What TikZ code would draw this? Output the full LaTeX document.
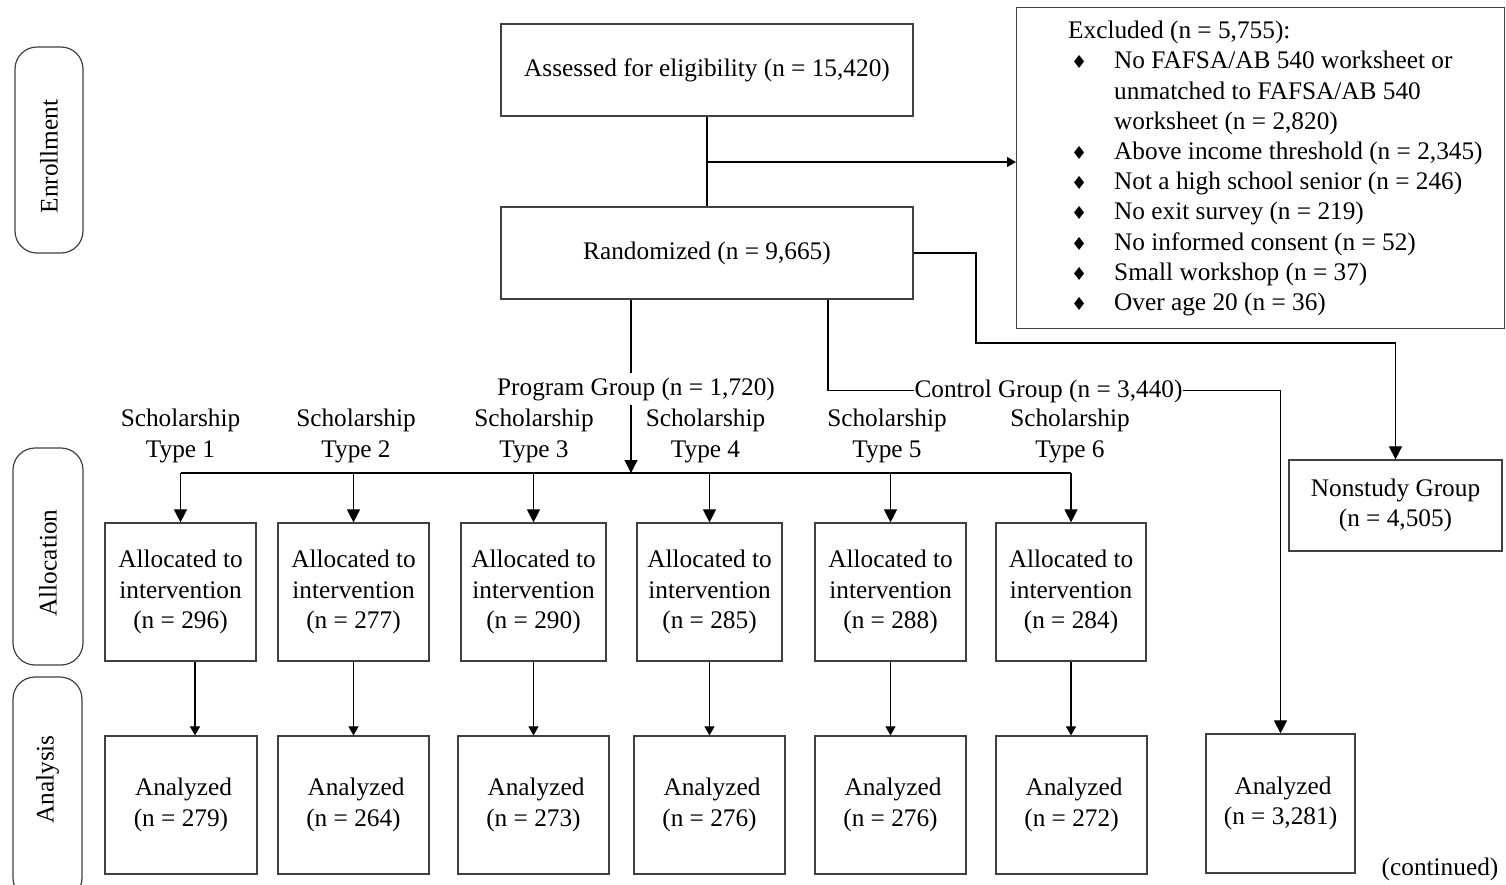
\documentclass[tikz,border=0pt]{standalone}
\usepackage{fontspec}
\setmainfont{Liberation Serif}
\newfontfamily\dejavu{DejaVu Sans}
\usetikzlibrary{arrows.meta,calc}
\newcommand\diam{{\dejavu\fontsize{18}{18}\selectfont ♦}}
\tikzset{
  txt/.style={font=\fontsize{25.3}{30.2}\selectfont},
  box/.style={draw=black!75, line width=1.2pt, txt, align=center, inner sep=0pt},
  phase/.style={draw=black!75, line width=1.2pt, rounded corners=22pt, txt, inner sep=0pt},
  conn/.style={line width=1.1pt, black},
  big/.style={conn, -{Triangle[width=13pt,length=13pt]}},
  small/.style={conn, -{Triangle[width=10pt,length=9pt]}},
  lab/.style={txt, inner sep=0pt, align=center},
}
\begin{document}
\begin{tikzpicture}[x=1pt,y=-1pt]
\useasboundingbox (0,0) rectangle (1506,884);

% phase labels
\node[phase, minimum width=68pt, minimum height=206pt] (enr) at (49,150) {\rotatebox{90}{Enrollment\hspace*{13pt}}};
\node[phase, minimum width=70pt, minimum height=217pt] (alc) at (48,556.5) {\rotatebox{90}{Allocation\hspace*{13pt}}};
\node[phase, minimum width=69pt, minimum height=223pt] (anl) at (47.5,788.5) {\rotatebox{90}{\hspace*{18pt}Analysis}};

% enrollment
\node[box, minimum width=412pt, minimum height=92pt] (ass) at (707,70) {Assessed for eligibility (n = 15,420)};
\node[box, minimum width=412pt, minimum height=92pt] (ran) at (707,253) {Randomized (n = 9,665)};
\node[box, anchor=north west, minimum width=488pt, minimum height=321pt] (excl) at (1016,7) {};
\node[txt, anchor=west, inner sep=0pt] (exclt) at (1068,168.5) {%
\begin{tabular}{@{}l@{}l@{}}
\multicolumn{2}{@{}l@{}}{Excluded (n = 5,755):}\\
\makebox[46pt][l]{\hspace{3pt}\diam} & No FAFSA/AB 540 worksheet or\\
 & unmatched to FAFSA/AB 540\\
 & worksheet (n = 2,820)\\
\makebox[46pt][l]{\hspace{3pt}\diam} & Above income threshold (n = 2,345)\\
\makebox[46pt][l]{\hspace{3pt}\diam} & Not a high school senior (n = 246)\\
\makebox[46pt][l]{\hspace{3pt}\diam} & No exit survey (n = 219)\\
\makebox[46pt][l]{\hspace{3pt}\diam} & No informed consent (n = 52)\\
\makebox[46pt][l]{\hspace{3pt}\diam} & Small workshop (n = 37)\\
\makebox[46pt][l]{\hspace{3pt}\diam} & Over age 20 (n = 36)
\end{tabular}};

\coordinate (j1) at (707,162);
\draw[conn] (ass) -- (ran);
\draw[small] (j1) -- (j1 -| excl.west);

% group labels
\node[lab, anchor=base, inner ysep=4pt] (prog) at (636,395) {Program Group (n = 1,720)};
\node[lab, anchor=base] (ctrl) at (1048.5,397) {Control Group (n = 3,440)};

% nonstudy
\node[box, minimum width=213pt, minimum height=91pt] (non) at (1395.5,505.5) {Nonstudy Group\\(n = 4,505)};

% scholarship type labels
\node[lab] (s1) at (180.5,436) {Scholarship\\Type 1};
\node[lab] (s2) at (356,436) {Scholarship\\Type 2};
\node[lab] (s3) at (534,436) {Scholarship\\Type 3};
\node[lab] (s4) at (705.5,436) {Scholarship\\Type 4};
\node[lab] (s5) at (887,436) {Scholarship\\Type 5};
\node[lab] (s6) at (1070,436) {Scholarship\\Type 6};

% allocated boxes
\node[box, minimum width=151pt, minimum height=138pt] (al1) at (180.5,592) {Allocated to\\intervention\\(n = 296)};
\node[box, minimum width=151pt, minimum height=138pt] (al2) at (353.5,592) {Allocated to\\intervention\\(n = 277)};
\node[box, minimum width=145pt, minimum height=138pt] (al3) at (533.5,592) {Allocated to\\intervention\\(n = 290)};
\node[box, minimum width=145pt, minimum height=138pt] (al4) at (709.5,592) {Allocated to\\intervention\\(n = 285)};
\node[box, minimum width=151pt, minimum height=138pt] (al5) at (890.5,592) {Allocated to\\intervention\\(n = 288)};
\node[box, minimum width=150pt, minimum height=138pt] (al6) at (1071,592) {Allocated to\\intervention\\(n = 284)};

% analyzed boxes
\node[box, minimum width=152pt, minimum height=138pt] (an1) at (181,805) {\hspace*{5pt}Analyzed\\(n = 279)};
\node[box, minimum width=151pt, minimum height=138pt] (an2) at (353.5,805) {\hspace*{5pt}Analyzed\\(n = 264)};
\node[box, minimum width=151pt, minimum height=138pt] (an3) at (533.5,805) {\hspace*{5pt}Analyzed\\(n = 273)};
\node[box, minimum width=151pt, minimum height=138pt] (an4) at (709.5,805) {\hspace*{5pt}Analyzed\\(n = 276)};
\node[box, minimum width=151pt, minimum height=138pt] (an5) at (890.5,805) {\hspace*{5pt}Analyzed\\(n = 276)};
\node[box, minimum width=151pt, minimum height=138pt] (an6) at (1071.5,805) {\hspace*{5pt}Analyzed\\(n = 272)};
\node[box, minimum width=149pt, minimum height=139pt] (an7) at (1280.5,803.5) {\hspace*{5pt}Analyzed\\(n = 3,281)};

\node[lab, anchor=base] (cont) at (1440,875) {(continued)};

% connectors
\coordinate (px) at (631,0);
\coordinate (cx) at (828,0);
\coordinate (bar) at (0,473);
\coordinate (nx) at (976,343);
\coordinate (a1s) at ($(al1.south)+(14.5,0)$);
\draw[conn] (ran.south -| px) -- (prog.north -| px);
\draw[big] (prog.south -| px) -- (bar -| px);
\draw[conn] (al1.north |- bar) -- (al6.north |- bar);
\foreach \k in {1,...,6}{
  \draw[big] (al\k.north |- bar) -- (al\k.north);
}
\draw[small] (a1s) -- (a1s |- an1.north);
\foreach \k in {2,...,6}{
  \draw[small] (al\k.south) -- (al\k.south |- an\k.north);
}
\draw[conn] (ran.south -| cx) |- (ctrl.west);
\draw[big] (ctrl.east) -| (an7.north);
\draw[big] (ran.east) -| (nx) -| (non.north);
\end{tikzpicture}
\end{document}
